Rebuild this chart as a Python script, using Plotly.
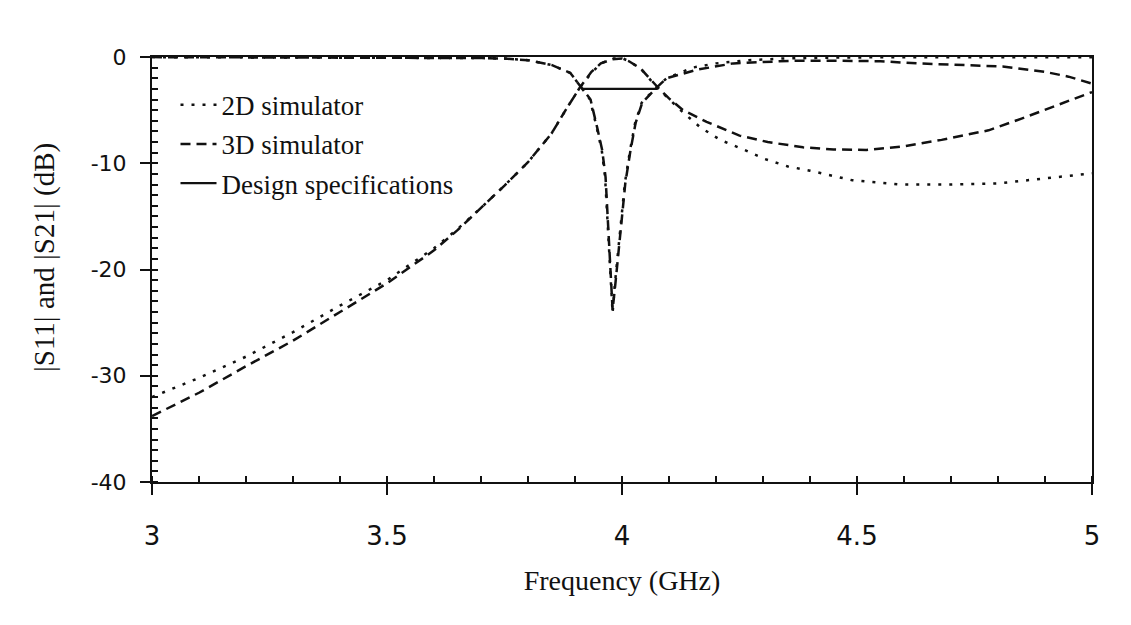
import plotly.graph_objects as go

# ---------------- data ----------------
# |S21| 2D simulator (dotted)
f_s21_2d = [3.0, 3.1, 3.2, 3.3, 3.4, 3.5, 3.6, 3.65, 3.7, 3.75, 3.8, 3.85, 3.88, 3.91,
            3.935, 3.955, 3.98, 4.0, 4.015, 4.04, 4.075, 4.1, 4.127, 4.166, 4.209,
            4.258, 4.304, 4.353, 4.4, 4.45, 4.49, 4.59, 4.7, 4.8, 4.88, 5.0]
s21_2d = [-32.0, -30.2, -28.2, -25.9, -23.4, -21.0, -18.0, -16.2, -14.2, -12.1, -9.9,
          -7.2, -5.0, -2.9, -1.5, -0.6, -0.15, -0.1, -0.4, -1.1, -2.9, -4.0, -5.1,
          -6.6, -7.8, -8.7, -9.6, -10.3, -10.7, -11.2, -11.6, -12.0, -12.0, -11.9,
          -11.5, -10.95]

# |S21| 3D simulator (dashed)
f_s21_3d = [3.0, 3.1, 3.2, 3.3, 3.4, 3.5, 3.6, 3.65, 3.7, 3.75, 3.8, 3.85, 3.88, 3.91,
            3.935, 3.955, 3.98, 4.0, 4.015, 4.04, 4.075, 4.1, 4.13, 4.18, 4.25, 4.31,
            4.385, 4.45, 4.52, 4.6, 4.68, 4.78, 4.85, 4.91, 4.96, 5.0]
s21_3d = [-33.8, -31.6, -29.1, -26.7, -24.0, -21.3, -18.2, -16.3, -14.2, -12.1, -9.9,
          -7.2, -5.0, -2.9, -1.4, -0.6, -0.2, -0.15, -0.4, -1.1, -2.8, -3.9, -5.0,
          -6.1, -7.4, -8.0, -8.5, -8.7, -8.75, -8.4, -7.8, -6.9, -5.8, -4.8, -4.0, -3.3]

# |S11| 2D simulator (dotted)
f_s11_2d = [3.0, 3.3, 3.5, 3.6, 3.7, 3.75, 3.8, 3.85, 3.89, 3.914, 3.932, 3.946, 3.957,
            3.964, 3.967, 3.971, 3.974, 3.978, 3.98, 3.985, 3.992, 3.999, 4.006, 4.017,
            4.028, 4.042, 4.072, 4.095, 4.15, 4.2, 4.27, 4.34, 4.45, 4.6, 4.8, 5.0]
s11_2d = [-0.01, -0.02, -0.03, -0.05, -0.1, -0.15, -0.3, -0.75, -1.5, -2.9, -4.0, -6.6,
          -8.8, -11.3, -13.8, -16.3, -18.8, -21.9, -24.1, -21.3, -18.2, -14.4, -11.9,
          -8.8, -6.2, -4.3, -2.9, -2.0, -1.0, -0.6, -0.3, -0.15, -0.05, -0.02, -0.02,
          -0.03]

# |S11| 3D simulator (dashed)
f_s11_3d = [3.0, 3.3, 3.5, 3.6, 3.7, 3.75, 3.8, 3.85, 3.89, 3.914, 3.933, 3.947, 3.958,
            3.965, 3.968, 3.972, 3.975, 3.978, 3.98, 3.986, 3.993, 4.0, 4.007, 4.018,
            4.029, 4.043, 4.073, 4.095, 4.159, 4.237, 4.31, 4.364, 4.45, 4.55, 4.63,
            4.73, 4.81, 4.9, 4.95, 5.0]
s11_3d = [-0.01, -0.02, -0.03, -0.05, -0.1, -0.15, -0.3, -0.75, -1.5, -2.9, -4.0, -6.6,
          -8.8, -11.3, -13.8, -16.3, -18.8, -21.9, -23.8, -21.3, -18.2, -14.4, -11.9,
          -8.8, -6.2, -4.3, -2.9, -2.0, -1.2, -0.6, -0.45, -0.35, -0.35, -0.4, -0.6,
          -0.75, -0.9, -1.4, -1.85, -2.5]

# Design specification (-3 dB band)
f_spec = [3.915, 4.075]
spec = [-3.0, -3.0]

x_ticks = [3, 3.5, 4, 4.5, 5]
x_labels = ["3", "3.5", "4", "4.5", "5"]
y_ticks = [0, -10, -20, -30, -40]
y_labels = ["0", "-10", "-20", "-30", "-40"]

# ---------------- figure ----------------
SERIF = "Liberation Serif"
SANS = "DejaVu Sans"
BLACK = "#111111"
DOT = "3px,8px"
DASH = "10px,6px"
LW = 2.5

fig = go.Figure()
fig.add_trace(go.Scatter(x=f_s21_2d, y=s21_2d, mode="lines", name="2D simulator",
                         legendgroup="2d",
                         line=dict(color=BLACK, width=LW, dash=DOT)))
fig.add_trace(go.Scatter(x=f_s11_2d, y=s11_2d, mode="lines", name="2D simulator",
                         legendgroup="2d", showlegend=False,
                         line=dict(color=BLACK, width=LW, dash=DOT)))
fig.add_trace(go.Scatter(x=f_s21_3d, y=s21_3d, mode="lines", name="3D simulator",
                         legendgroup="3d",
                         line=dict(color=BLACK, width=LW, dash=DASH)))
fig.add_trace(go.Scatter(x=f_s11_3d, y=s11_3d, mode="lines", name="3D simulator",
                         legendgroup="3d", showlegend=False,
                         line=dict(color=BLACK, width=LW, dash=DASH)))
fig.add_trace(go.Scatter(x=f_spec, y=spec, mode="lines", name="Design specifications",
                         legendgroup="spec",
                         line=dict(color=BLACK, width=2.2)))

fig.update_layout(
    width=1131, height=625,
    margin=dict(l=144, r=47, t=49, b=151),
    paper_bgcolor="white", plot_bgcolor="white",
    font=dict(family=SERIF, color=BLACK),
    showlegend=True,
    legend=dict(x=0.025, y=0.944, xanchor="left", yanchor="top",
                bgcolor="rgba(0,0,0,0)", font=dict(family=SERIF, size=27, color=BLACK),
                tracegroupgap=1, itemwidth=36),
    xaxis=dict(range=[3, 5], tickvals=x_ticks, ticktext=x_labels,
               showgrid=False, zeroline=False,
               showline=True, linecolor=BLACK, linewidth=2, mirror=True,
               ticks="outside", ticklen=11, tickwidth=2, tickcolor=BLACK,
               ticklabelstandoff=19,
               minor=dict(dtick=0.1, ticks="inside", ticklen=6, tickwidth=1.5,
                          tickcolor=BLACK, showgrid=False),
               tickfont=dict(family=SANS, size=26, color=BLACK),
               title=dict(text="Frequency (GHz)", standoff=20,
                          font=dict(family=SERIF, size=28, color=BLACK))),
    yaxis=dict(range=[-40, 0], tickvals=y_ticks, ticktext=y_labels,
               showgrid=False, zeroline=False,
               showline=True, linecolor=BLACK, linewidth=2, mirror=True,
               ticks="outside", ticklen=10, tickwidth=2, tickcolor=BLACK,
               ticklabelstandoff=9,
               minor=dict(dtick=1, ticks="inside", ticklen=6, tickwidth=1.5,
                          tickcolor=BLACK, showgrid=False),
               tickfont=dict(family=SANS, size=22, color=BLACK)),
    annotations=[dict(text="|S11| and |S21| (dB)", textangle=-90,
                      xref="paper", yref="paper",
                      x=(45 - 152) / 940, y=(482 - 258) / 425,
                      xanchor="center", yanchor="middle", showarrow=False,
                      font=dict(family=SERIF, size=29, color=BLACK))],
)

fig.write_html("out.html")
